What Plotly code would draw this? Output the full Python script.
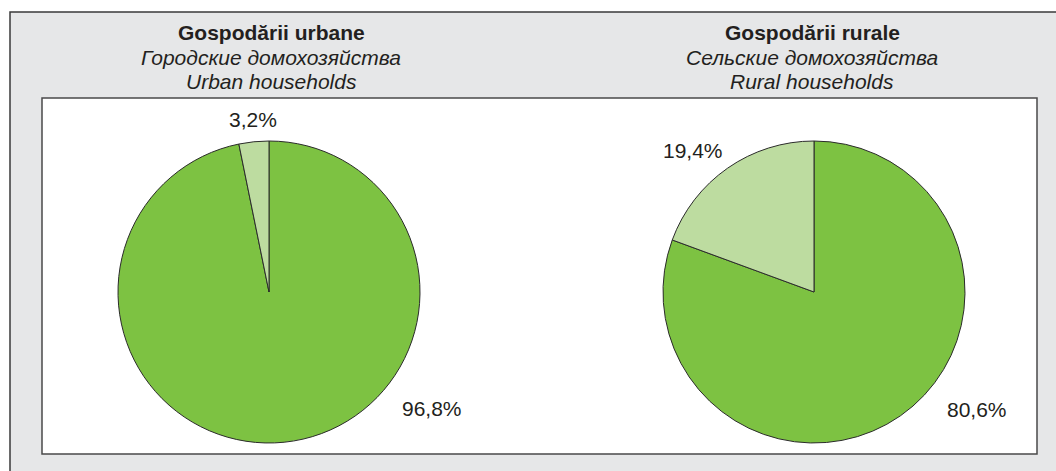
import plotly.graph_objects as go

W, H = 1056, 471

# Data (main share first, drawn clockwise from 12 o'clock)
slice_names = ["Main", "Other"]
urban_values = [96.8, 3.2]
rural_values = [80.6, 19.4]
titles_urban = ["<b>Gospodării urbane</b>", "<i>Городские домохозяйства</i>", "<i>Urban households</i>"]
titles_rural = ["<b>Gospodării rurale</b>", "<i>Сельские домохозяйства</i>", "<i>Rural households</i>"]

colors = ["#7dc242", "#bddca0"]
FONT = "Liberation Sans, Arial, sans-serif"
TXT = "#231f20"


def px(x):
    return x / W


def py(y):
    return 1 - y / H


def fmt(v):
    return f"{v:.1f}".replace(".", ",") + "%"


fig = go.Figure()

pie_common = dict(
    labels=slice_names,
    marker=dict(colors=colors, line=dict(color="#2b2b2b", width=1)),
    sort=False,
    direction="clockwise",
    rotation=0,
    textinfo="none",
    hoverinfo="label+percent",
    showlegend=False,
)

fig.add_trace(go.Pie(values=urban_values,
                     domain=dict(x=[px(118), px(420)], y=[py(443), py(141)]),
                     **pie_common))
fig.add_trace(go.Pie(values=rural_values,
                     domain=dict(x=[px(663), px(965)], y=[py(443), py(141)]),
                     **pie_common))

shapes = [
    dict(type="rect", xref="paper", yref="paper",
         x0=px(10), y0=py(12), x1=px(1070), y1=py(490),
         fillcolor="#e6e7e8", line=dict(color="#3a3a3a", width=1.5), layer="below"),
    dict(type="rect", xref="paper", yref="paper",
         x0=px(42), y0=py(98), x1=px(1037), y1=py(454),
         fillcolor="#ffffff", line=dict(color="#4a4a4a", width=1.5), layer="below"),
]

annotations = []
title_y = [32, 57, 81]
for cx, lines in [(271, titles_urban), (812, titles_rural)]:
    for ty, t in zip(title_y, lines):
        annotations.append(dict(
            x=px(cx), y=py(ty + 1), xref="paper", yref="paper",
            text=t, showarrow=False, xanchor="center", yanchor="middle",
            font=dict(family=FONT, size=21, color=TXT)))

label_pos = [
    (urban_values[1], 253, 119),
    (urban_values[0], 432, 407),
    (rural_values[1], 693, 150),
    (rural_values[0], 977, 408),
]
for v, lx, ly in label_pos:
    annotations.append(dict(
        x=px(lx), y=py(ly + 1), xref="paper", yref="paper",
        text=fmt(v), showarrow=False, xanchor="center", yanchor="middle",
        font=dict(family=FONT, size=21, color=TXT)))

fig.update_layout(
    width=W, height=H,
    margin=dict(l=0, r=0, t=0, b=0),
    paper_bgcolor="#ffffff",
    plot_bgcolor="#ffffff",
    shapes=shapes,
    annotations=annotations,
)

fig.write_html("out.html", config={"displayModeBar": False},
               post_script="document.body.style.margin='0';document.body.style.overflow='hidden';")
